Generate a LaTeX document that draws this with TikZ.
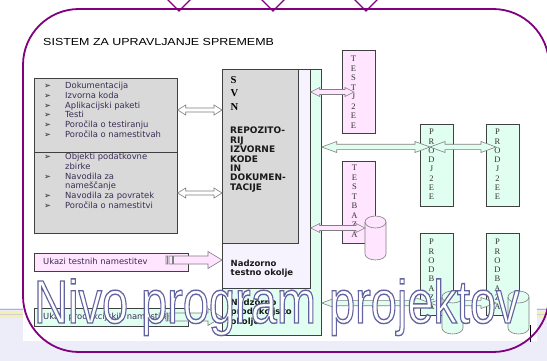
\documentclass[tikz,border=0pt]{standalone}
\usepackage{fontspec}
\setmainfont{Liberation Sans}
\newfontfamily\dejavu{DejaVu Sans}
\newfontfamily\serifft{Liberation Serif}
\usetikzlibrary{calc}
\definecolor{framepurple}{HTML}{800080}
\definecolor{boxgrayc}{HTML}{D9D9D9}
\definecolor{pinkfill}{HTML}{FFE5FF}
\definecolor{mintfill}{HTML}{E0FFF0}
\definecolor{lavfill}{HTML}{F6F3FF}
\definecolor{edgegray}{HTML}{404040}
\definecolor{arrowgray}{HTML}{7F7F7F}
\definecolor{listtext}{HTML}{3A2D55}
\definecolor{bglav}{HTML}{ECEDF8}
\definecolor{stripeyel}{HTML}{F4F0B4}

\newcommand\dblarrow[6]{% style, start, end, shaft half, head half, head len
  \path[#1] let \p1=#2, \p2=#3 in
    (\x1,\y1) -- (\x1+#6pt,\y1+#5pt) -- (\x1+#6pt,\y1+#4pt) -- (\x2-#6pt,\y1+#4pt) -- (\x2-#6pt,\y1+#5pt) -- (\x2,\y1)
    -- (\x2-#6pt,\y1-#5pt) -- (\x2-#6pt,\y1-#4pt) -- (\x1+#6pt,\y1-#4pt) -- (\x1+#6pt,\y1-#5pt) -- cycle;}
\newcommand\stripedarrow[3]{% style, start, tip
  \path[#1] let \p1=#2, \p2=#3 in
    (\x1,\y1-4pt) rectangle (\x1+1.5pt,\y1+4pt)
    (\x1+3pt,\y1-4pt) rectangle (\x1+6.5pt,\y1+4pt)
    (\x1+7.5pt,\y1-4pt) -- (\x2-14pt,\y1-4pt) -- (\x2-14pt,\y1-8.5pt) -- (\x2,\y1) -- (\x2-14pt,\y1+8.5pt) -- (\x2-14pt,\y1+4pt) -- (\x1+7.5pt,\y1+4pt) -- cycle;}
\newcommand\cyl[5]{% style, top-left, width, height, ry
  \path[#1] let \p1=#2 in (\x1,\y1) -- (\x1,\y1-#4pt)
    arc[start angle=180,end angle=360,x radius=#3pt/2,y radius=#5pt] -- (\x1+#3pt,\y1)
    arc[start angle=0,end angle=180,x radius=#3pt/2,y radius=#5pt] -- cycle;
  \draw[#1,fill=none] let \p1=#2 in (\x1,\y1)
    arc[start angle=180,end angle=360,x radius=#3pt/2,y radius=#5pt];}
\newcommand\outlinetext[1]{{\color{white}\special{pdf:literal direct 2 Tr 1.4 w 0.39 0.39 0.63 RG}#1\special{pdf:literal direct 0 Tr}}}

\begin{document}
\begin{tikzpicture}[x=1pt,y=-1pt,
  boxbase/.style={draw=edgegray, line width=0.7pt, inner sep=0pt, anchor=north west},
  boxgray/.style={boxbase, fill=boxgrayc},
  boxpink/.style={boxbase, fill=pinkfill},
  boxmint/.style={boxbase, fill=mintfill},
  boxlav/.style={boxbase, fill=lavfill},
  listtxt/.style={anchor=base west, inner sep=0pt, font=\dejavu\fontsize{8.4}{10}\selectfont, text=listtext},
  bulletmark/.style={anchor=base west, inner sep=0pt, font=\dejavu\fontsize{8.2}{9}\selectfont, text=black!85},
  boldtxt/.style={anchor=base west, inner sep=0pt, font=\dejavu\bfseries\fontsize{8.5}{9}\selectfont, text=black!90},
  repotxt/.style={anchor=base west, inner sep=0pt, font=\dejavu\bfseries\fontsize{9}{9}\selectfont, text=black!90},
  svnltr/.style={anchor=base west, inner sep=0pt, font=\serifft\bfseries\fontsize{10.6}{11}\selectfont},
  vltr/.style={inner sep=0pt, font=\serifft\fontsize{8.5}{9}\selectfont, text=black!80},
  arrgray/.style={draw=arrowgray, fill=white, line width=0.6pt},
  arrpink/.style={draw=arrowgray, fill=pinkfill, line width=0.6pt},
  arrmint/.style={draw=arrowgray, fill=mintfill, line width=0.6pt},
  cylpink/.style={draw=arrowgray, fill=pinkfill, line width=0.6pt},
  cylmint/.style={draw=arrowgray, fill=mintfill, line width=0.6pt},
]
\clip (0,0) rectangle (547,361);
% background
\fill[bglav] (0,0) rectangle (547,361);
\fill[white] (0,0) rectangle (547,308);
\fill[stripeyel] (0,311) rectangle (547,318);
\draw[gray!60, line width=0.6pt] (0,309) -- (547,309);
\draw[gray!35, line width=0.5pt] (0,314.5) -- (547,314.5);
\fill[white] (23,0) rectangle (537,340.5);
\draw[black, line width=0.8pt] (530,325) -- (530,342);
% frame
\draw[framepurple, line width=1.8pt, rounded corners=56pt] (23,9) rectangle (549,352);
\foreach \vx in {179,273,366} \draw[framepurple, line width=1.4pt] (\vx-14,-3) -- (\vx,11) -- (\vx+14,-3);
% title
\node[anchor=base west, inner sep=0pt, xscale=1.22, font=\fontsize{10.2}{12}\selectfont] (title) at (43,45.7) {SISTEM ZA UPRAVLJANJE SPREMEMB};
% SVN nested boxes
\node[boxmint, minimum width=99pt, minimum height=266pt] (mintbox) at (222,69) {};
\node[boxlav, minimum width=88pt, minimum height=219pt] (lavbox) at (222,69) {};
\node[boxgray, minimum width=76pt, minimum height=174pt] (svnbox) at (222,69) {};
\node[svnltr] (svnS) at (230.5,83.5) {S};
\node[svnltr] (svnV) at (230.5,96.8) {V};
\node[svnltr] (svnN) at (230.5,111) {N};
\foreach \t [count=\i] in {REPOZITO-,RIJ,IZVORNE,KODE,IN,DOKUMEN-,TACIJE}
  \node[repotxt] (repo\i) at (230,{134+9.38*(\i-1)}) {\t};
\node[boldtxt] (nto1) at (230.5,266) {Nadzorno};
\node[boldtxt] (nto2) at (230.5,275) {testno okolje};
\node[boldtxt] (npo1) at (230.5,305) {Nadzorno};
\node[boldtxt] (npo2) at (230.5,314.5) {produkcijsko};
\node[boldtxt] (npo3) at (230.5,324) {okolje};
% left list box
\node[boxgray, minimum width=143pt, minimum height=155pt] (leftbox) at (34,78) {};
\draw[edgegray, line width=0.7pt] (leftbox.west |- 0,152) -- (leftbox.east |- 0,152);
\foreach \t [count=\i] in {Dokumentacija,Izvorna koda,Aplikacijski paketi,Testi,Poročila o testiranju,Poročila o namestitvah}{
  \node[bulletmark] (ub\i) at (44,{89+9.65*(\i-1)}) {➢};
  \node[listtxt] (ut\i) at (65,{89+9.65*(\i-1)}) {\t};}
\foreach \t/\b [count=\i] in {Objekti podatkovne/1,zbirke/0,Navodila za/1,nameščanje/0,Navodila za povratek/1,Poročila o namestitvi/1}{
  \node[listtxt] (lt\i) at (65,{160+9.65*(\i-1)}) {\t};
  \ifnum\b=1 \node[bulletmark] (lb\i) at (44,{160+9.65*(\i-1)}) {➢};\fi}
% command boxes
\node[boxpink, minimum width=154pt, minimum height=18pt] (ukt) at (34,253) {};
\node[listtxt] (ukttxt) at (43,264.5) {Ukazi testnih namestitev};
\node[boxmint, minimum width=154pt, minimum height=18pt] (ukp) at (34,308) {};
\node[listtxt] (ukptxt) at (43,319.5) {Ukazi produkcijskih namestitev};
% vertical boxes
\node[boxpink, minimum width=33pt, minimum height=83pt] (testj) at (342,50) {};
\foreach \c [count=\i] in {T,E,S,T,J,2,E,E} \node[vltr] (tjl\i) at (353.5,{59+9.5*(\i-1)}) {\c};
\node[boxpink, minimum width=33pt, minimum height=82pt] (testb) at (342,161) {};
\foreach \c [count=\i] in {T,E,S,T,B,A,Z,A} \node[vltr] (tbl\i) at (354.5,{168+9.5*(\i-1)}) {\c};
\node[boxmint, minimum width=33pt, minimum height=82pt] (prodj1) at (420,124) {};
\foreach \c [count=\i] in {P,R,O,D,J,2,E,E} \node[vltr] (pja\i) at (431.5,{132+9.3*(\i-1)}) {\c};
\node[boxmint, minimum width=33pt, minimum height=82pt] (prodj2) at (486,124) {};
\foreach \c [count=\i] in {P,R,O,D,J,2,E,E} \node[vltr] (pjb\i) at (497.5,{132+9.3*(\i-1)}) {\c};
\node[boxmint, minimum width=33pt, minimum height=82pt] (prodb1) at (420,233) {};
\foreach \c [count=\i] in {P,R,O,D,B,A,Z,A} \node[vltr] (pba\i) at (431.5,{242+9.3*(\i-1)}) {\c};
\node[boxmint, minimum width=33pt, minimum height=82pt] (prodb2) at (486,233) {};
\foreach \c [count=\i] in {P,R,O,D,B,A,Z,A} \node[vltr] (pbb\i) at (497.5,{242+9.3*(\i-1)}) {\c};
% cylinder (test DB)
\cyl{cylpink}{(365,222)}{21}{32}{6}
\coordinate (cylp) at (365,228);
% connectors
\coordinate (a1s) at (leftbox.east |- 0,110); \coordinate (a1e) at (svnbox.west |- 0,110);
\coordinate (a2s) at (leftbox.east |- 0,193); \coordinate (a2e) at (svnbox.west |- 0,193);
\dblarrow{arrgray}{(a1s)}{(a1e)}{2}{5}{8}
\dblarrow{arrgray}{(a2s)}{(a2e)}{2}{5}{8}
\coordinate (a3s) at (lavbox.east |- 0,92); \coordinate (a3e) at (354,92);
\dblarrow{arrpink}{(a3s)}{(a3e)}{2.5}{4.5}{9}
\coordinate (a4s) at (lavbox.east |- 0,228);
\dblarrow{arrpink}{(a4s)}{(cylp)}{2.5}{4.5}{9}
\coordinate (a5s) at (mintbox.east |- 0,147); \coordinate (a5m) at (430,147); \coordinate (a5e) at (496,147);
\dblarrow{arrmint}{(a5s)}{(a5m)}{2.7}{5.5}{15}
\dblarrow{arrmint}{(a5m)}{(a5e)}{2.7}{5.5}{15}
\coordinate (a6s) at (mintbox.east |- 0,303); \coordinate (a6m) at (430,303); \coordinate (a6e) at (496,303);
\dblarrow{arrmint}{(a6s)}{(a6m)}{2.7}{5.5}{15}
\dblarrow{arrmint}{(a6m)}{(a6e)}{2.7}{5.5}{15}
\coordinate (s1s) at (166,260); \coordinate (s1e) at (lavbox.west |- 0,260);
\stripedarrow{arrpink}{(s1s)}{(s1e)}
\coordinate (s2s) at (166,317); \coordinate (s2e) at (mintbox.west |- 0,317);
\stripedarrow{arrmint}{(s2s)}{(s2e)}
% production DB cylinders
\cyl{cylmint}{(442,297)}{21}{31}{6}
\cyl{cylmint}{(508,297)}{21}{31}{6}
% big outlined caption
\node[anchor=base west, inner sep=0pt, xscale=0.77, font=\fontsize{61}{61}\selectfont] (nivo) at (34,323) {\outlinetext{Nivo program projektov}};
\end{tikzpicture}
\end{document}
